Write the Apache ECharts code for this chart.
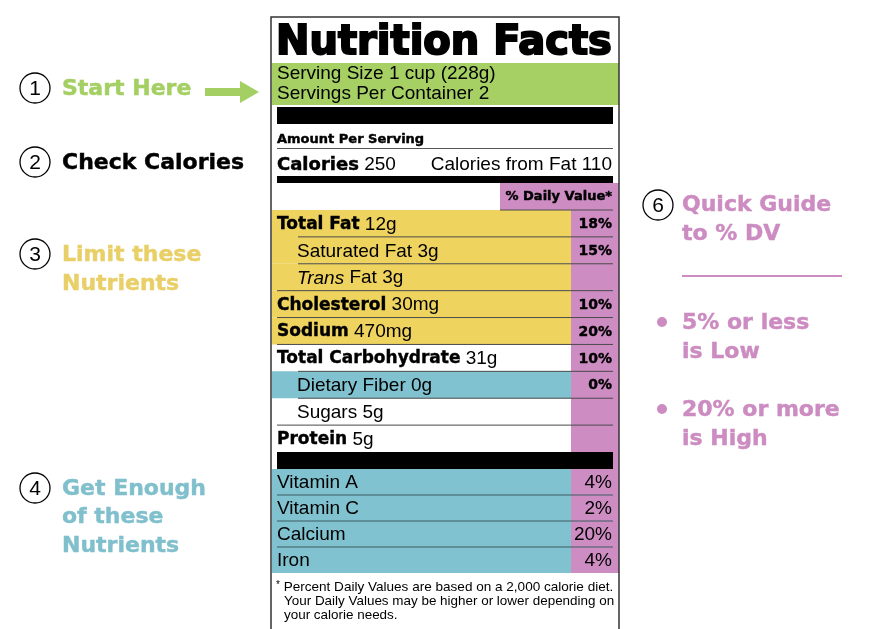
<!DOCTYPE html>
<html>
<head>
<meta charset="utf-8">
<script src="https://cdn.jsdelivr.net/npm/echarts@6/dist/echarts.min.js"></script>
<style>
  html, body { margin: 0; padding: 0; background: #fff; }
  #main { width: 875px; height: 629px; }
</style>
</head>
<body>
<div id="main"></div>
<script>
// label data
var nutrientNames = ['Total Fat', 'Saturated Fat', 'Trans Fat', 'Cholesterol', 'Sodium',
  'Total Carbohydrate', 'Dietary Fiber', 'Sugars', 'Protein'];
var nutrientAmounts = ['12g', '3g', '3g', '30mg', '470mg', '31g', '0g', '5g', '5g'];
var nutrientDV = [18, 15, null, 10, 20, 10, 0, null, null];
var nutrientLevel = [1, 2, 2, 1, 1, 1, 2, 2, 1];
var nutrientGroup = ['limit', 'limit', 'limit', 'limit', 'limit', 'none', 'enough', 'none', 'none'];
var vitaminNames = ['Vitamin A', 'Vitamin C', 'Calcium', 'Iron'];
var vitaminDV = [4, 2, 20, 4];

var servingLines = ['Serving Size 1 cup (228g)', 'Servings Per Container 2'];
var calories = 250;
var caloriesFromFat = 110;
var footLines = ['Percent Daily Values are based on a 2,000 calorie diet.',
  'Your Daily Values may be higher or lower depending on',
  'your calorie needs.'];

var GREEN = '#a6d064', YELLOW = '#efd35f', BLUE = '#80c2cf', PINK = '#cd8dc3';
var HEAVY = '"DejaVu Sans"', PLAIN = '"Liberation Sans", Arial, sans-serif';

var bandFill = { limit: YELLOW, enough: BLUE, none: null };

function nutrientRow(params, api) {
  var i = params.dataIndex;
  var cs = params.coordSys;
  var cy = api.coord([0, i])[1];
  var h = api.size([0, 1])[1];
  var top = cy - h / 2;
  var kids = [];
  var fill = bandFill[nutrientGroup[i]];
  if (fill) {
    kids.push({ type: 'rect', shape: { x: cs.x, y: top, width: 299, height: h }, style: { fill: fill } });
  }
  var lx = i === 0 ? 500 : (nutrientLevel[i] === 2 ? 298 : 277);
  kids.push({ type: 'line', shape: { x1: lx, y1: top, x2: 613, y2: top },
    style: { stroke: '#4a4a4a', lineWidth: 1 } });
  var txt;
  if (nutrientNames[i] === 'Trans Fat') {
    txt = '{i|Trans}{r| Fat ' + nutrientAmounts[i] + '}';
  } else if (nutrientLevel[i] === 1) {
    txt = '{b|' + nutrientNames[i] + '}{r| ' + nutrientAmounts[i] + '}';
  } else {
    txt = '{r|' + nutrientNames[i] + ' ' + nutrientAmounts[i] + '}';
  }
  kids.push({ type: 'text', x: nutrientLevel[i] === 2 ? 297 : 277, y: cy + 1,
    style: { text: txt, verticalAlign: 'middle', align: 'left', fill: '#000',
      rich: {
        b: { fontFamily: HEAVY, fontWeight: 'bold', fontSize: 17, fill: '#000', stroke: '#000', lineWidth: 0.4 },
        r: { fontFamily: PLAIN, fontSize: 19, fill: '#000' },
        i: { fontFamily: PLAIN, fontSize: 19, fontStyle: 'italic', fill: '#000' }
      } } });
  if (nutrientDV[i] !== null) {
    kids.push({ type: 'text', x: 612, y: cy + 1,
      style: { text: nutrientDV[i] + '%', align: 'right', verticalAlign: 'middle',
        fill: '#000', stroke: '#000', lineWidth: 0.4, font: 'bold 14px ' + HEAVY } });
  }
  return { type: 'group', children: kids };
}

function vitaminRow(params, api) {
  var i = params.dataIndex;
  var cs = params.coordSys;
  var cy = api.coord([0, i])[1];
  var h = api.size([0, 1])[1];
  var top = cy - h / 2;
  var kids = [];
  kids.push({ type: 'rect', shape: { x: cs.x, y: top, width: 299, height: h }, style: { fill: BLUE } });
  if (i > 0) {
    kids.push({ type: 'line', shape: { x1: 277, y1: top, x2: 613, y2: top },
      style: { stroke: '#3c5a60', lineWidth: 1 } });
  }
  kids.push({ type: 'text', x: 277, y: cy + 1,
    style: { text: vitaminNames[i], align: 'left', verticalAlign: 'middle',
      fill: '#000', font: '19px ' + PLAIN } });
  kids.push({ type: 'text', x: 612, y: cy + 1,
    style: { text: vitaminDV[i] + '%', align: 'right', verticalAlign: 'middle',
      fill: '#000', font: '19px ' + PLAIN } });
  return { type: 'group', children: kids };
}

function txt(x, y, text, font, fill, align, extra) {
  var st = { text: text, font: font, fill: fill || '#000',
    align: align || 'left', textAlign: align || 'left',
    verticalAlign: 'middle', textVerticalAlign: 'middle' };
  if (extra) { for (var k in extra) st[k] = extra[k]; }
  return { type: 'text', x: x, y: y, z: 20, style: st };
}

// heavy guide text, thickened a little with a stroke of the same colour
function heavy(x, y, text, size, color, align) {
  return txt(x, y, text, 'bold ' + size + 'px ' + HEAVY, color, align, { stroke: color, lineWidth: 0.45 });
}

function badge(cx, cy, n) {
  return [
    { type: 'circle', z: 20, shape: { cx: cx, cy: cy, r: 15 }, style: { fill: '#fff', stroke: '#000', lineWidth: 1.3 } },
    txt(cx, cy + 1, String(n), '21px ' + PLAIN, '#000', 'center')
  ];
}

var elements = [
  // pink % DV column and header
  { type: 'rect', z: 0, shape: { x: 571, y: 183, width: 48, height: 390 }, style: { fill: PINK } },
  { type: 'rect', z: 0, shape: { x: 500, y: 183, width: 119, height: 27 }, style: { fill: PINK } },
  // title
  txt(276, 44, 'Nutrition Facts', 'bold 40px ' + HEAVY, '#000', 'left', { stroke: '#000', lineWidth: 2 }),
  // serving band
  { type: 'rect', z: 1, shape: { x: 272, y: 63, width: 347, height: 42 }, style: { fill: GREEN } },
  txt(277, 74, servingLines[0], '19px ' + PLAIN),
  txt(277, 94, servingLines[1], '19px ' + PLAIN),
  { type: 'rect', z: 10, shape: { x: 277, y: 107, width: 336, height: 17 }, style: { fill: '#000' } },
  heavy(277, 140, 'Amount Per Serving', 13, '#000'),
  { type: 'line', z: 10, shape: { x1: 277, y1: 148.5, x2: 613, y2: 148.5 }, style: { stroke: '#555', lineWidth: 1 } },
  { type: 'text', x: 277, y: 165, z: 20, style: {
    text: '{b|Calories}{r| ' + calories + '}', verticalAlign: 'middle', textVerticalAlign: 'middle',
    rich: { b: { fontFamily: HEAVY, fontWeight: 'bold', fontSize: 18, fill: '#000', stroke: '#000', lineWidth: 0.5 },
      r: { fontFamily: PLAIN, fontSize: 19, fill: '#000' } } } },
  txt(612, 165, 'Calories from Fat ' + caloriesFromFat, '19px ' + PLAIN, '#000', 'right'),
  { type: 'rect', z: 10, shape: { x: 277, y: 176, width: 336, height: 7 }, style: { fill: '#000' } },
  heavy(612, 197, '% Daily Value*', 13, '#000', 'right'),
  // bar between nutrients and vitamins
  { type: 'rect', z: 10, shape: { x: 277, y: 452, width: 336, height: 17 }, style: { fill: '#000' } },
  // footnote
  { type: 'text', x: 276, y: 587, z: 20, style: {
    text: '{s|*} ' + footLines[0], verticalAlign: 'middle', textVerticalAlign: 'middle',
    rich: { s: { fontFamily: PLAIN, fontSize: 10, verticalAlign: 'top', fill: '#000' } },
    font: '13.55px ' + PLAIN, fill: '#000' } },
  txt(284, 601, footLines[1], '13.45px ' + PLAIN),
  txt(284, 615, footLines[2], '13.45px ' + PLAIN),
  // label outline
  { type: 'rect', z: 30, shape: { x: 271, y: 17, width: 348, height: 640 },
    style: { fill: 'none', stroke: '#333', lineWidth: 1.5 } },

  // left guide
  heavy(62, 89, 'Start Here', 22, '#a3cf63'),
  { type: 'polygon', z: 20, shape: { points: [[205, 88], [240, 88], [240, 81], [259, 92], [240, 103], [240, 96], [205, 96]] },
    style: { fill: '#a3cf63' } },
  heavy(62, 163, 'Check Calories', 22, '#000'),
  heavy(62, 255, 'Limit these', 22, '#e9cf67'),
  heavy(62, 284, 'Nutrients', 22, '#e9cf67'),
  heavy(62, 489, 'Get Enough', 22, '#80bfcc'),
  heavy(62, 517, 'of these', 22, '#80bfcc'),
  heavy(62, 546, 'Nutrients', 22, '#80bfcc'),

  // right guide
  heavy(682, 205, 'Quick Guide', 22, '#cc8cc1'),
  heavy(682, 234, 'to % DV', 22, '#cc8cc1'),
  { type: 'line', z: 20, shape: { x1: 682, y1: 276, x2: 842, y2: 276 }, style: { stroke: '#cc8cc1', lineWidth: 2 } },
  { type: 'circle', z: 20, shape: { cx: 662, cy: 322, r: 5 }, style: { fill: '#cc8cc1' } },
  heavy(682, 323, '5% or less', 22, '#cc8cc1'),
  heavy(682, 352, 'is Low', 22, '#cc8cc1'),
  { type: 'circle', z: 20, shape: { cx: 662, cy: 409, r: 5 }, style: { fill: '#cc8cc1' } },
  heavy(682, 410, '20% or more', 22, '#cc8cc1'),
  heavy(682, 439, 'is High', 22, '#cc8cc1')
];
elements = elements.concat(badge(35, 88, 1), badge(35, 162, 2), badge(35, 254, 3),
  badge(35, 488, 4), badge(658, 205, 6));

var chart = echarts.init(document.getElementById('main'));
chart.setOption({
  animation: false,
  grid: [
    { left: 272, top: 210, width: 347, height: 242 },
    { left: 272, top: 469, width: 347, height: 104 }
  ],
  xAxis: [
    { type: 'value', gridIndex: 0, min: 0, max: 100, show: false },
    { type: 'value', gridIndex: 1, min: 0, max: 100, show: false }
  ],
  yAxis: [
    { type: 'category', gridIndex: 0, inverse: true, data: nutrientNames, show: false },
    { type: 'category', gridIndex: 1, inverse: true, data: vitaminNames, show: false }
  ],
  graphic: { elements: elements },
  series: [
    { type: 'custom', xAxisIndex: 0, yAxisIndex: 0, z: 5, renderItem: nutrientRow,
      data: nutrientNames.map(function (n, i) { return [nutrientDV[i] || 0, i]; }) },
    { type: 'custom', xAxisIndex: 1, yAxisIndex: 1, z: 5, renderItem: vitaminRow,
      data: vitaminNames.map(function (n, i) { return [vitaminDV[i], i]; }) }
  ]
});
</script>
</body>
</html>
